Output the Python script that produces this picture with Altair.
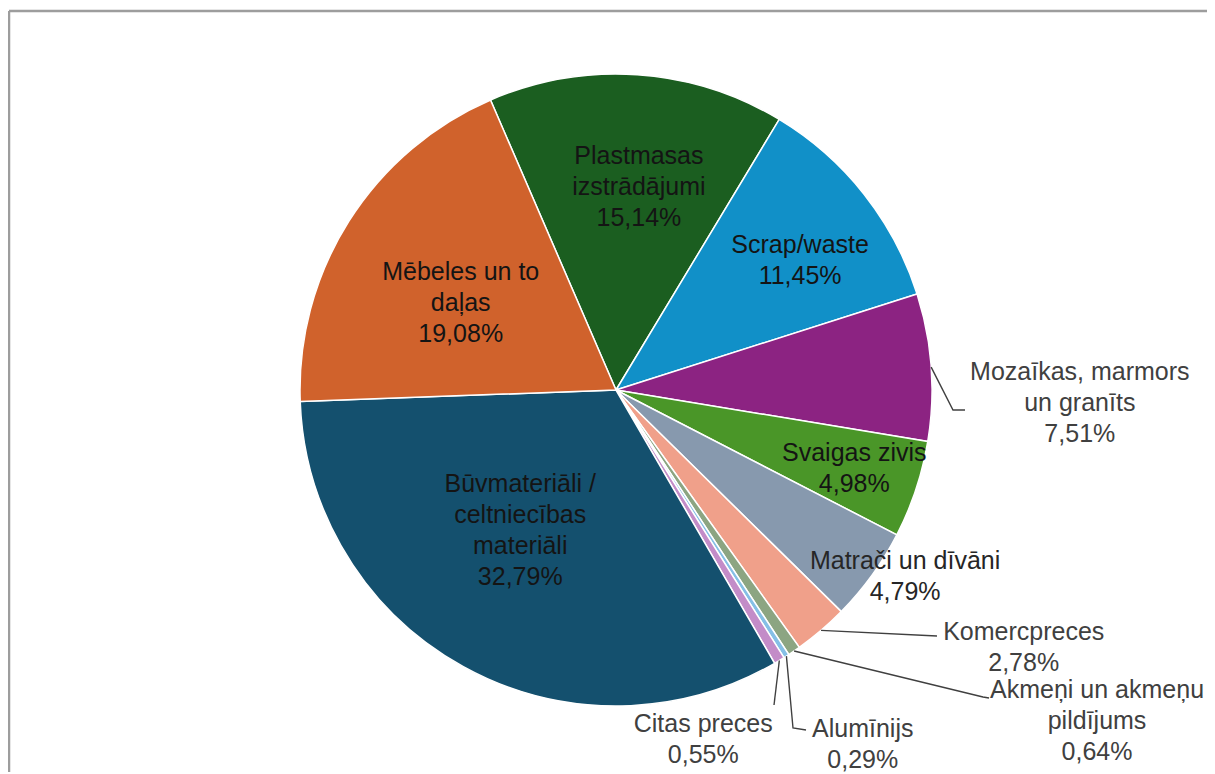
import math
import altair as alt
import pandas as pd
import numpy as np

# ---------------- data ----------------
categories = [
    "Plastmasas izstrādājumi",
    "Scrap/waste",
    "Mozaīkas, marmors un granīts",
    "Svaigas zivis",
    "Matrači un dīvāni",
    "Komercpreces",
    "Akmeņi un akmeņu pildījums",
    "Alumīnijs",
    "Citas preces",
    "Būvmateriāli / celtniecības materiāli",
    "Mēbeles un to daļas",
]
label_names = [
    "Plastmasas\nizstrādājumi",
    "Scrap/waste",
    "Mozaīkas, marmors\nun granīts",
    "Svaigas zivis",
    "Matrači un dīvāni",
    "Komercpreces",
    "Akmeņi un akmeņu\npildījums",
    "Alumīnijs",
    "Citas preces",
    "Būvmateriāli /\nceltniecības\nmateriāli",
    "Mēbeles un to\ndaļas",
]
shares = [15.14, 11.45, 7.51, 4.98, 4.79, 2.78, 0.64, 0.29, 0.55, 32.79, 19.08]

# ---------------- style / layout ----------------
colors = ["#1B5E20", "#1190C8", "#8C2382", "#4A9628", "#8799AE", "#F0A08A",
          "#8CA582", "#85BFE6", "#C38CC8", "#14506E", "#D0622C"]
label_colors = ["#141414", "#141414", "#404040", "#141414", "#262626", "#404040",
                "#404040", "#404040", "#404040", "#141414", "#141414"]
# label placement: distance from pie centre (px) and angle offset from slice mid (deg)
label_r = [204, 225, 464, 251, 344, 482, 584, 432, 360, 170, 178]
label_da = [2.6, 3.2, 5.8, 0.0, -3.1, -17.3, -21.15, -2.2, 17.1, 5.4, -3.0]
# leader line bend / end points relative to pie centre (px), for outside labels
leaders = {
    "Mozaīkas, marmors un granīts": [(337, 20), (349, 20)],
    "Komercpreces": [(321, 246)],
    "Akmeņi un akmeņu pildījums": [(367, 307), (373, 308)],
    "Alumīnijs": [(177, 338), (190, 340)],
    "Citas preces": [(158, 315)],
}

W, H = 1199, 764
CX, CY = 608, 382          # pie centre inside the view
R = 316
START_DEG = 336.6
FONT = "Liberation Sans"
FS = 25
LH = 31

# ---------------- geometry from values ----------------
vals = np.array(shares)
total = vals.sum()
cum = np.cumsum(vals)
mid_deg = START_DEG + 360.0 * (cum - vals / 2) / total


def pct(v):
    return f"{v:.2f}".replace(".", ",") + "%"


pie_df = pd.DataFrame({"cat": categories, "share": shares, "ord": list(range(len(shares)))})

lab_rows = []
for i, c in enumerate(categories):
    a = math.radians(mid_deg[i] + label_da[i])
    txt = label_names[i] + "\n" + pct(shares[i])
    n = txt.count("\n") + 1
    lab_rows.append({
        "cat": c,
        "txt": txt,
        "lx": label_r[i] * math.sin(a),
        "ly": -label_r[i] * math.cos(a) - (n - 1) * LH / 2,
        "tc": label_colors[i],
    })
lab_df = pd.DataFrame(lab_rows)

lead_rows = []
for i, c in enumerate(categories):
    if c not in leaders:
        continue
    a = math.radians(mid_deg[i])
    pts = [(R * math.sin(a), -R * math.cos(a))] + leaders[c]
    for s, (px, py) in enumerate(pts):
        lead_rows.append({"cat": c, "seq": s, "px": px, "py": py})
lead_df = pd.DataFrame(lead_rows)

xs = alt.Scale(domain=[-CX, W - CX], nice=False, zero=False)
ys = alt.Scale(domain=[-CY, H - CY], nice=False, zero=False, reverse=True)

start = math.radians(START_DEG)
pie = alt.Chart(pie_df).mark_arc(radius=R, stroke="white", strokeWidth=1.5).encode(
    theta=alt.Theta("share:Q", stack=True, scale=alt.Scale(range=[start, start + 2 * math.pi])),
    order=alt.Order("ord:Q"),
    color=alt.Color("cat:N", scale=alt.Scale(domain=categories, range=colors), legend=None),
    x=alt.X(datum=0, type="quantitative", scale=xs, axis=None),
    y=alt.Y(datum=0, type="quantitative", scale=ys, axis=None),
)

lines = alt.Chart(lead_df).mark_line(color="#404040", strokeWidth=1.4).encode(
    x=alt.X("px:Q", scale=xs, axis=None),
    y=alt.Y("py:Q", scale=ys, axis=None),
    detail="cat:N",
    order="seq:Q",
)

texts = alt.Chart(lab_df).mark_text(
    font=FONT, fontSize=FS, lineBreak="\n", lineHeight=LH, align="center", baseline="middle"
).encode(
    x=alt.X("lx:Q", scale=xs, axis=None),
    y=alt.Y("ly:Q", scale=ys, axis=None),
    text="txt:N",
    color=alt.Color("tc:N", scale=None),
)

frame_df = pd.DataFrame({"k": [0]})
frame_top = alt.Chart(frame_df).mark_rule(color="#9d9d9d", strokeWidth=2.5).encode(
    x=alt.value(1), x2=alt.value(W), y=alt.value(3), y2=alt.value(3))
frame_left = alt.Chart(frame_df).mark_rule(color="#9d9d9d", strokeWidth=2.5).encode(
    x=alt.value(1), x2=alt.value(1), y=alt.value(3), y2=alt.value(H))

chart = alt.layer(frame_top, frame_left, pie, lines, texts).properties(
    width=W, height=H, padding=0, autosize=alt.AutoSizeParams(type="none"),
    background="white",
).configure_view(stroke=None)

chart.save("out.html", embed_options={"renderer": "svg", "actions": False})
